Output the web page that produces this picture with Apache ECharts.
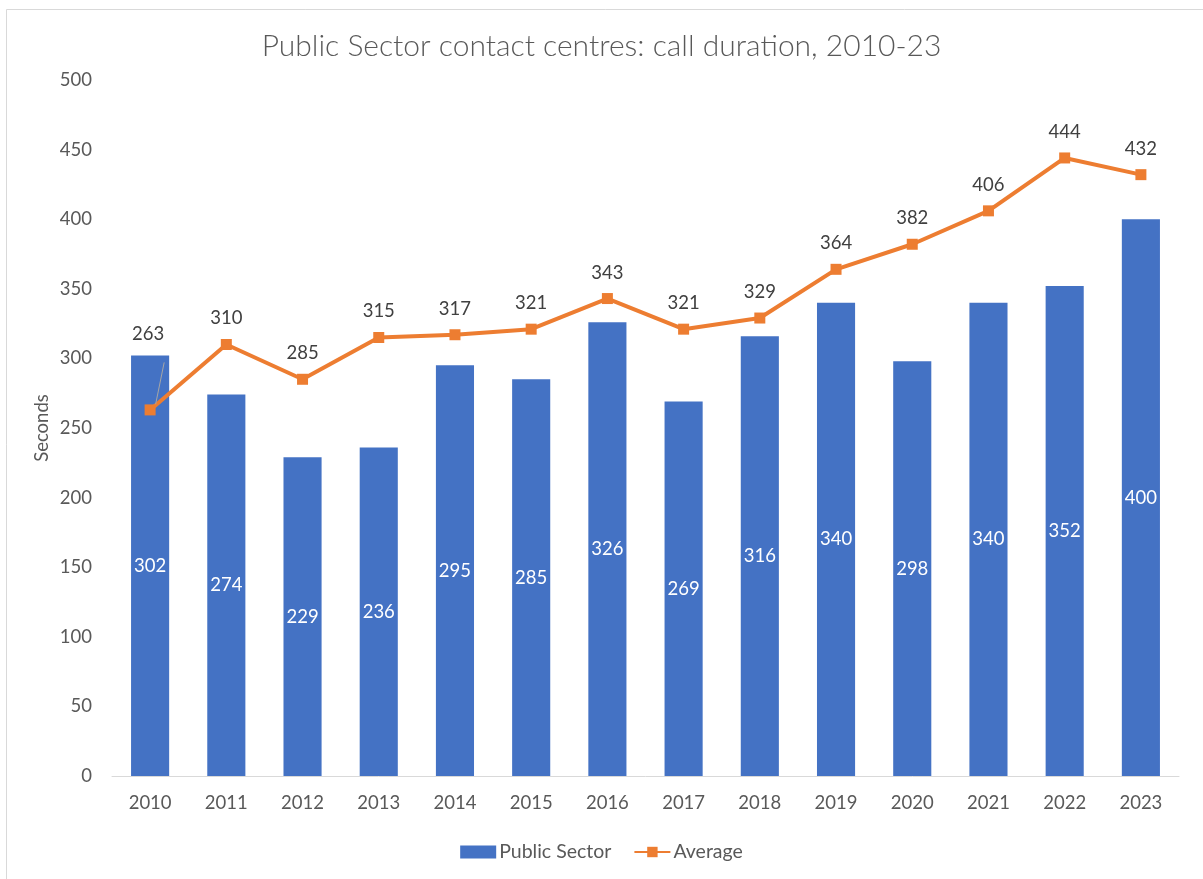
<!DOCTYPE html>
<html>
<head>
<meta charset="utf-8">
<script src="https://cdn.jsdelivr.net/npm/echarts@6/dist/echarts.min.js"></script>
<style>
  html, body { margin: 0; padding: 0; background: #fff; }
  #chart { width: 1203px; height: 879px; }
</style>
</head>
<body>
<div id="chart"></div>
<script>
// Call duration in seconds, public sector vs overall average
const years = ['2010','2011','2012','2013','2014','2015','2016','2017','2018','2019','2020','2021','2022','2023'];
const publicSector = [302, 274, 229, 236, 295, 285, 326, 269, 316, 340, 298, 340, 352, 400];
const average = [263, 310, 285, 315, 317, 321, 343, 321, 329, 364, 382, 406, 444, 432];

const FONT = 'Lato, "Noto Sans", sans-serif';
const TEXT = '#595959';
const FS = 18.5;

const chart = echarts.init(document.getElementById('chart'), null, { renderer: 'canvas' });

chart.setOption({
  animation: false,
  backgroundColor: '#ffffff',
  graphic: [{
    type: 'rect',
    shape: { x: 6.5, y: 9.5, width: 1210, height: 900 },
    style: { fill: 'none', stroke: '#d9d9d9', lineWidth: 1 },
    silent: true
  }],
  title: {
    text: 'Public Sector contact centres: call duration, 2010-23',
    left: 'center',
    top: 26,
    textStyle: { fontFamily: FONT, fontSize: 30, fontWeight: 300, color: TEXT }
  },
  legend: {
    bottom: 12,
    left: 'center',
    itemGap: 22,
    itemWidth: 36,
    itemHeight: 13,
    textStyle: { fontFamily: FONT, fontSize: 19.5, color: TEXT, padding: [0, 0, 0, -2] },
    data: [
      { name: 'Public Sector', icon: 'rect' },
      { name: 'Average' }
    ]
  },
  grid: { left: 112, right: 24, top: 80, bottom: 103, containLabel: false },
  xAxis: {
    type: 'category',
    data: years,
    axisLine: { show: true, lineStyle: { color: '#d9d9d9', width: 1 } },
    axisTick: { show: false },
    axisLabel: { fontFamily: FONT, fontSize: FS, color: TEXT, margin: 18 }
  },
  yAxis: {
    type: 'value',
    min: 0,
    max: 500,
    interval: 50,
    name: 'Seconds',
    nameLocation: 'middle',
    nameGap: 60,
    nameRotate: 90,
    nameMoveOverlap: false,
    nameTextStyle: { fontFamily: FONT, fontSize: FS, color: TEXT },
    axisLine: { show: false },
    axisTick: { show: false },
    splitLine: { show: false },
    axisLabel: { fontFamily: FONT, fontSize: FS, color: TEXT, margin: 20, align: 'right' }
  },
  series: [
    {
      name: 'Public Sector',
      type: 'bar',
      data: publicSector,
      barWidth: '50%',
      itemStyle: { color: '#4472C4' },
      label: {
        show: true,
        position: 'inside',
        color: '#ffffff',
        fontFamily: FONT,
        fontSize: FS
      }
    },
    {
      name: 'Average',
      type: 'line',
      data: average.map((v, i) => i === 0
        ? { value: v, label: { offset: [-2, -50] }, labelLine: { show: true } }
        : v),
      symbol: 'rect',
      symbolSize: 11,
      lineStyle: { color: '#ED7D31', width: 4 },
      itemStyle: { color: '#ED7D31' },
      label: {
        show: true,
        position: 'top',
        distance: 11,
        color: '#404040',
        fontFamily: FONT,
        fontSize: FS
      },
      labelLine: { lineStyle: { color: '#a6a6a6', width: 1 } }
    }
  ]
});
</script>
</body>
</html>
